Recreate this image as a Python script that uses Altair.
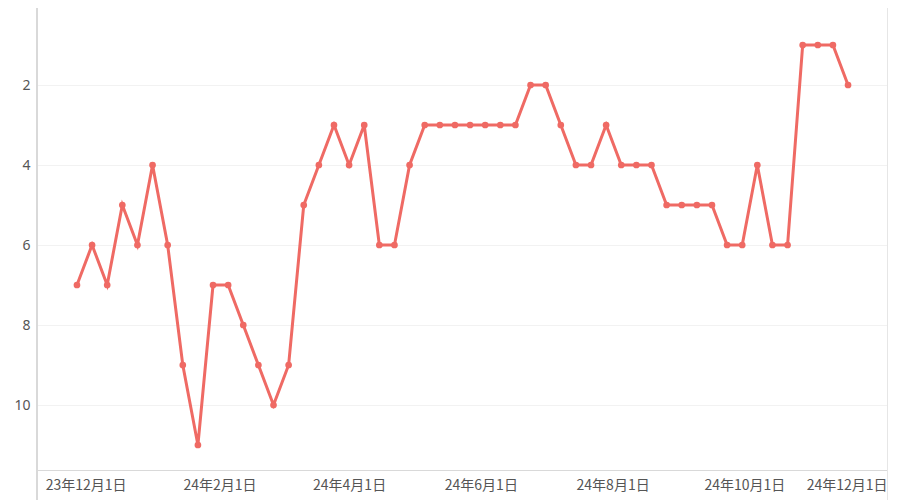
import altair as alt
import pandas as pd

dates = [
    "2023-11-27", "2023-12-04", "2023-12-11", "2023-12-18", "2023-12-25",
    "2024-01-01", "2024-01-08", "2024-01-15", "2024-01-22", "2024-01-29",
    "2024-02-05", "2024-02-12", "2024-02-19", "2024-02-26", "2024-03-04",
    "2024-03-11", "2024-03-18", "2024-03-25", "2024-04-01", "2024-04-08",
    "2024-04-15", "2024-04-22", "2024-04-29", "2024-05-06", "2024-05-13",
    "2024-05-20", "2024-05-27", "2024-06-03", "2024-06-10", "2024-06-17",
    "2024-06-24", "2024-07-01", "2024-07-08", "2024-07-15", "2024-07-22",
    "2024-07-29", "2024-08-05", "2024-08-12", "2024-08-19", "2024-08-26",
    "2024-09-02", "2024-09-09", "2024-09-16", "2024-09-23", "2024-09-30",
    "2024-10-07", "2024-10-14", "2024-10-21", "2024-10-28", "2024-11-04",
    "2024-11-11", "2024-11-18",
]
ranks = [
    7, 6, 7, 5, 6, 4, 6, 9, 11, 7,
    7, 8, 9, 10, 9, 5, 4, 3, 4, 3,
    6, 6, 4, 3, 3, 3, 3, 3, 3, 3,
    2, 2, 3, 4, 4, 3, 4, 4, 4, 5,
    5, 5, 5, 6, 6, 4, 6, 6, 1, 1,
    1, 2,
]
y_ticks = [2, 4, 6, 8, 10]
x_tick_dates = [(2023, 12), (2024, 2), (2024, 4), (2024, 6), (2024, 8), (2024, 10), (2024, 12)]

df = pd.DataFrame({"date": [d + "T00:00:00" for d in dates], "rank": ranks})

W, H = 851, 465
LINE_COLOR = "#ef6a64"
AXIS_COLOR = "#d9d9d9"

x_enc = alt.X(
    "date:T",
    scale=alt.Scale(
        domain=[
            alt.DateTime(year=2023, month=11, date=8, hours=12),
            alt.DateTime(year=2024, month=12, date=6, hours=12),
        ]
    ),
    axis=alt.Axis(
        title=None,
        values=[alt.DateTime(year=y, month=m, date=1) for y, m in x_tick_dates],
        format="%y年%-m月%-d日",
        grid=False,
        ticks=False,
        domain=True,
        domainColor=AXIS_COLOR,
        domainWidth=1,
        labelFont="Noto Sans CJK JP",
        labelFontSize=14,
        labelColor="#555555",
        labelPadding=8,
        labelFlush=15,
        labelFlushOffset=11,
        labelOverlap=False,
    ),
)
y_enc = alt.Y(
    "rank:Q",
    scale=alt.Scale(domain=[0, 11.625], reverse=True, nice=False, zero=False),
    axis=alt.Axis(
        title=None,
        values=y_ticks,
        grid=True,
        gridColor="#f2f2f2",
        gridWidth=1,
        ticks=False,
        domain=False,
        labelFont="Noto Sans",
        labelFontSize=14,
        labelColor="#555555",
        labelPadding=7,
    ),
)

base = alt.Chart(df)
line = base.mark_line(color=LINE_COLOR, strokeWidth=3).encode(x=x_enc, y=y_enc)
pts = base.mark_circle(color=LINE_COLOR, size=45, opacity=1).encode(x="date:T", y="rank:Q")

left_rule = alt.Chart(df).mark_rule(color=AXIS_COLOR, strokeWidth=1.5).encode(
    x=alt.value(0), y=alt.value(0), y2=alt.value(H + 30)
)
right_rule = alt.Chart(df).mark_rule(color="#e6e6e6", strokeWidth=1.5).encode(
    x=alt.value(W), y=alt.value(0), y2=alt.value(H + 30)
)

chart = (
    alt.layer(left_rule, right_rule, line, pts)
    .properties(
        width=W,
        height=H,
        autosize=alt.AutoSizeParams(type="none"),
        padding={"left": 29, "top": -3, "right": 0, "bottom": 30},
    )
    .configure_view(stroke=None)
)

chart.save("out.html", embed_options={"renderer": "svg", "actions": False})
